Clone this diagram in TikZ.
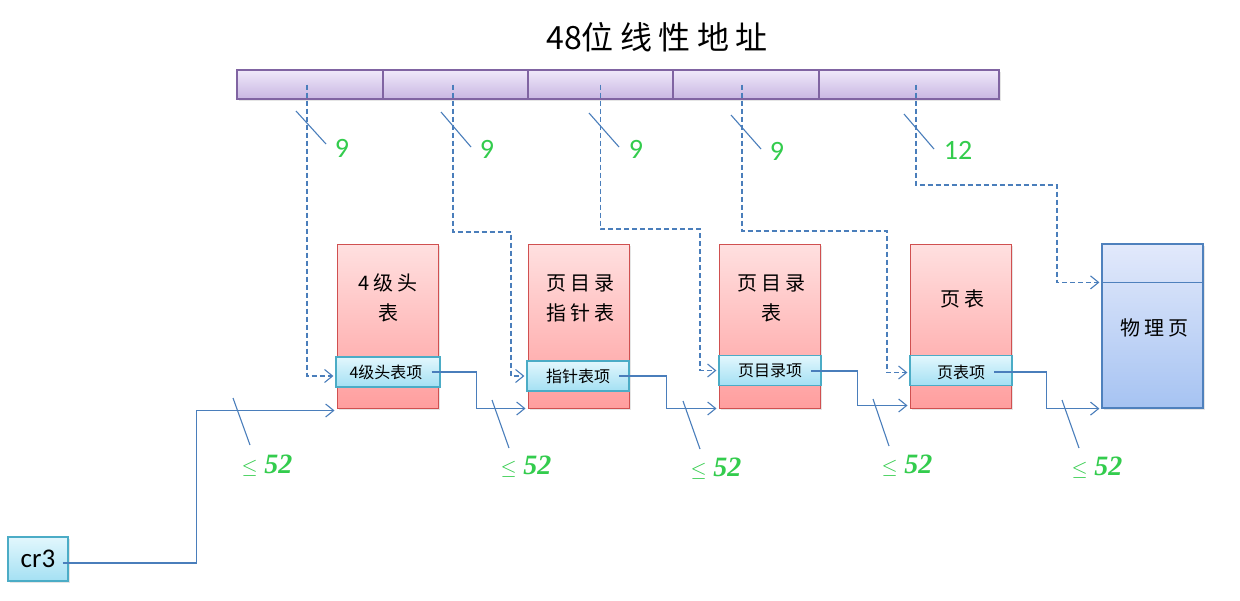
\documentclass[tikz,border=0pt]{standalone}
\usepackage{fontspec}
\usetikzlibrary{arrows.meta,shadows}
\newfontfamily\zhfont{Noto Sans CJK SC}
\newfontfamily\zhwide[LetterSpace=20]{Noto Sans CJK SC}
\newfontfamily\calfont{Carlito}
\newfontfamily\numfont{Liberation Serif}
\definecolor{barline}{HTML}{8064A2}
\definecolor{bartop}{HTML}{F0E9FA}
\definecolor{barbot}{HTML}{C8B6E2}
\definecolor{tblline}{HTML}{D05050}
\definecolor{tbltop}{HTML}{FFE0E0}
\definecolor{tblbot}{HTML}{FF9E9E}
\definecolor{entline}{HTML}{4BACC6}
\definecolor{enttop}{HTML}{E2F7FD}
\definecolor{entbot}{HTML}{A4E0F3}
\definecolor{pgline}{HTML}{4F81BD}
\definecolor{pgtop}{HTML}{E2E9FB}
\definecolor{pgbot}{HTML}{A6C3F2}
\definecolor{conn}{HTML}{4A7EBB}
\definecolor{grn}{HTML}{33CC4D}

\begin{document}
\begin{tikzpicture}[x=1pt,y=-1pt,>={Straight Barb[length=8pt,width=13pt]},inner sep=0pt,
  seg/.style={draw=barline,line width=1.2pt,top color=bartop,bottom color=barbot,minimum width=#1,minimum height=29pt,drop shadow={opacity=0.2,shadow xshift=1.5pt,shadow yshift=-1.5pt}},
  tbl/.style={draw=tblline,line width=1pt,top color=tbltop,bottom color=tblbot,minimum width=101pt,minimum height=164pt,drop shadow={opacity=0.2,shadow xshift=1.5pt,shadow yshift=-1.5pt}},
  entry/.style={draw=entline,line width=1.2pt,top color=enttop,bottom color=entbot,minimum width=#1,minimum height=30pt},
  tbltext/.style={align=center,font=\zhwide\fontsize{20}{30}\selectfont},
  entrytext/.style={inner xsep=9pt,font=\zhfont\fontsize{16}{18}\selectfont},
  conn/.style={draw=conn,line width=1.1pt,->,shorten >=2pt},
  dline/.style={draw=conn,line width=1.1pt,dash pattern=on 5pt off 3pt,->,shorten >=2pt},
  tk/.style={draw=conn,line width=1.1pt},
  bits/.style={text=grn,font=\calfont\fontsize{28}{30}\selectfont},
  width/.style={text=grn,font=\fontsize{22}{28}\selectfont}]
  \fill[white] (0,0) rectangle (1240,600);
  \useasboundingbox (0,0) rectangle (1240,600);
  % title and address bar
  \node[font=\fontsize{32}{36}\selectfont] (title) at (657,37) {\zhfont 48\zhwide 位线性地址};
  \node[seg=146pt] (s1) at (310,84.5) {};
  \node[seg=145pt] (s2) at (455.5,84.5) {};
  \node[seg=145pt] (s3) at (600.5,84.5) {};
  \node[seg=146pt] (s4) at (746,84.5) {};
  \node[seg=180pt] (s5) at (909,84.5) {};
  % tables
  \node[tbl] (t1) at (387.5,326) {};
  \node[tbl] (t2) at (578.5,326) {};
  \node[tbl] (t3) at (769.5,326) {};
  \node[tbl] (t4) at (960.5,326) {};
  \node[tbltext] (t1n) at (388,298) {4级头\\表};
  \node[tbltext] (t2n) at (580,298) {页目录\\指针表};
  \node[tbltext] (t3n) at (771,298) {页目录\\表};
  \node[tbltext] (t4n) at (962,299) {页表};
  \node[entry=104pt] (e1) at (388,372) {};
  \node[entry=102pt] (e2) at (578,376) {};
  \node[entry=102pt] (e3) at (770,370.5) {};
  \node[entry=102pt] (e4) at (961,370.5) {};
  \node[entrytext] (e1t) at (386,372) {4级头表项};
  \node[entrytext] (e2t) at (578,376) {指针表项};
  \node[entrytext] (e3t) at (770,371) {页目录项};
  \node[entrytext] (e4t) at (961,372) {页表项};
  % physical page
  \node[draw=pgline,line width=1.2pt,top color=pgtop,bottom color=pgbot,minimum width=101pt,minimum height=164pt,drop shadow={opacity=0.2,shadow xshift=1.5pt,shadow yshift=-1.5pt}] (p) at (1152.5,326) {};
  \coordinate (pdiv) at ([yshift=-39pt]p.north west);
  \draw[draw=pgline,line width=1.2pt] (pdiv) -- (pdiv -| p.east);
  \node[tbltext] (pn) at (1154,328) {物理页};
  % cr3
  \node[draw=entline,line width=1.2pt,top color=enttop,bottom color=entbot,minimum width=60pt,minimum height=44pt,font=\calfont\fontsize{27}{30}\selectfont,drop shadow={opacity=0.2,shadow xshift=1.5pt,shadow yshift=-1.5pt}] (cr3) at (38,559) {cr3};
  % index bits (dashed)
  \coordinate (b2) at (511,232);
  \coordinate (b3) at (700,229);
  \coordinate (b4) at (887,231);
  \coordinate (b5) at (1057,185);
  \draw[dline] ([xshift=-3pt]s1.center) |- ([yshift=-4pt]e1.west);
  \draw[dline] ([xshift=-2.5pt]s2.center) |- (b2) |- (e2.west);
  \draw[dline] (s3.center) |- (b3) |- (e3.west);
  \draw[dline] ([xshift=-4pt]s4.center) |- (b4) |- ([yshift=-2pt]e4.west);
  \draw[dline] ([xshift=7pt]s5.center) |- (b5) |- (pdiv);
  \draw[tk] (296,111) -- (326,144);
  \draw[tk] (441,112) -- (471,147);
  \draw[tk] (589,113) -- (619,147);
  \draw[tk] (731,115) -- (761,149);
  \draw[tk] (904,114) -- (934,149);
  \node[bits] (n1) at (342,148) {9};
  \node[bits] (n2) at (487,149) {9};
  \node[bits] (n3) at (636,149) {9};
  \node[bits] (n4) at (777,151) {9};
  \node[bits] (n5) at (958,150) {12};
  % base addresses (solid)
  \draw[conn] ([xshift=-6pt,yshift=-4pt]cr3.east) -| ([xshift=-140pt,yshift=-2pt]t1.south west) -- ([yshift=-2pt]t1.south west);
  \draw[conn] (e1t.east) -| ([xshift=-51pt]t2.south west) -- (t2.south west);
  \draw[conn] (e2t.east) -| ([xshift=-52pt]t3.south west) -- (t3.south west);
  \draw[conn] (e3t.east) -| ([xshift=-52pt,yshift=3pt]t4.south west) -- ([yshift=3pt]t4.south west);
  \draw[conn] (e4t.east) -| ([xshift=-55pt]p.south west) -- (p.south west);
  \draw[tk] (233,398) -- (250,445);
  \draw[tk] (492,400) -- (509,448);
  \draw[tk] (683,401) -- (700,449);
  \draw[tk] (873,399) -- (889,446);
  \draw[tk] (1062,400) -- (1079,448);
  \node[width] (w1) at (267,466) {$\leq$ {\numfont\fontsize{28}{30}\selectfont\bfseries\itshape 52}};
  \node[width] (w2) at (526,467) {$\leq$ {\numfont\fontsize{28}{30}\selectfont\bfseries\itshape 52}};
  \node[width] (w3) at (716,469) {$\leq$ {\numfont\fontsize{28}{30}\selectfont\bfseries\itshape 52}};
  \node[width] (w4) at (907,466) {$\leq$ {\numfont\fontsize{28}{30}\selectfont\bfseries\itshape 52}};
  \node[width] (w5) at (1097,468) {$\leq$ {\numfont\fontsize{28}{30}\selectfont\bfseries\itshape 52}};
\end{tikzpicture}
\end{document}
